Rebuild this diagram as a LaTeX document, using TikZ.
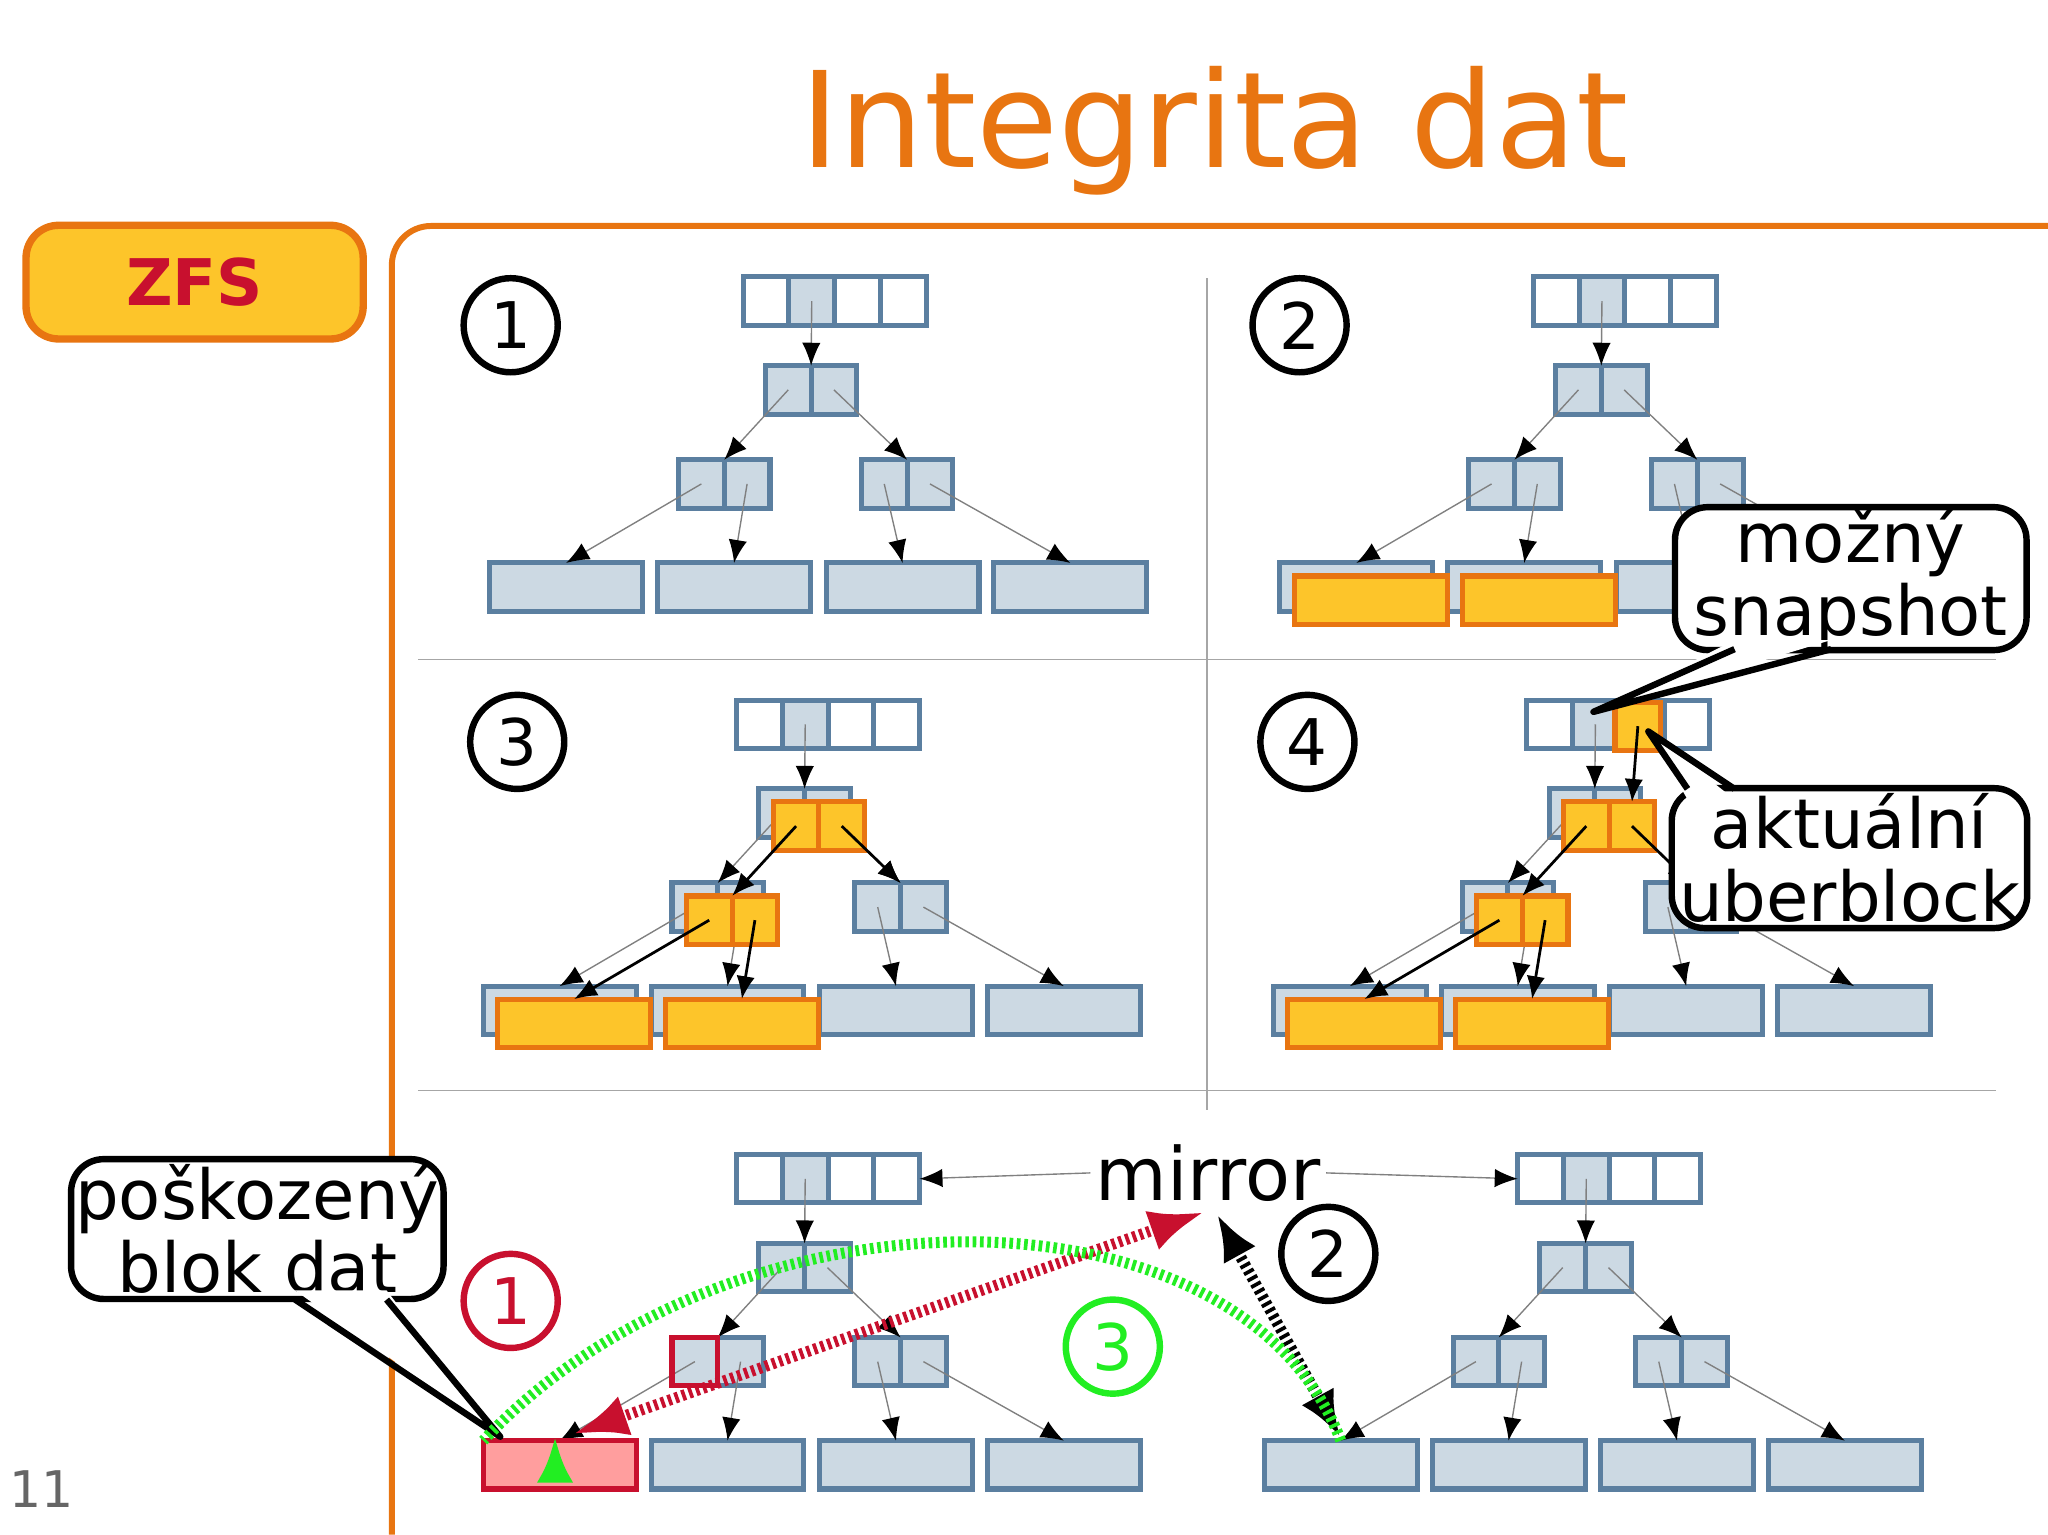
\documentclass[tikz,border=0pt]{standalone}
\usepackage{fontspec}
\setmainfont{DejaVu Sans}
\usetikzlibrary{arrows.meta}
\definecolor{bfill}{HTML}{CCD9E3}
\definecolor{bbord}{HTML}{5B7FA0}
\definecolor{ofill}{HTML}{FDC52A}
\definecolor{obord}{HTML}{E87511}
\definecolor{rfill}{HTML}{FF9E9E}
\definecolor{rbord}{HTML}{C8102E}
\definecolor{gdot}{HTML}{22EE22}
\tikzset{
  cell/.style={draw=bbord, line width=1.1pt, fill=bfill, minimum width=0.35cm,
    minimum height=0.37cm, inner sep=0, outer sep=0},
  leaf/.style={cell, minimum width=1.17cm},
  ocell/.style={cell, draw=obord, fill=ofill},
  oleaf/.style={leaf, draw=obord, fill=ofill},
  arr/.style={draw=gray, line width=0.3pt, -{Latex[length=5pt,width=4pt,black]}},
  oarr/.style={draw=black, line width=0.6pt, -{Latex[length=5pt,width=4pt]}},
  num/.style={circle, draw, line width=1.4pt, minimum size=0.72cm, inner sep=0, font=\fontsize{14}{14}\selectfont},
  callout/.style={draw, fill=white, line width=1.4pt, rounded corners=0.25cm, align=center,
    inner sep=0pt, font=\fontsize{15}{16}\selectfont},
  dotline/.style={line width=2.4pt, dash pattern=on 0.8pt off 0.8pt},
  pics/tree/.style={code={
    \node[cell, fill=white] (-r1) at (17.5,18.5) {};
    \node[cell] (-r2) at (52.5,18.5) {};
    \node[cell, fill=white] (-r3) at (87.5,18.5) {};
    \node[cell, fill=white] (-r4) at (122.5,18.5) {};
    \node[cell] (-m1) at (34.5,86.5) {};
    \node[cell] (-m2) at (69.5,86.5) {};
    \node[cell] (-a1) at (-32,158.5) {};
    \node[cell] (-a2) at (3,158.5) {};
    \node[cell] (-b1) at (108,158.5) {};
    \node[cell] (-b2) at (143,158.5) {};
    \node[leaf] (-l1) at (-135.5,237.5) {};
    \node[leaf] (-l2) at (-7,237.5) {};
    \node[leaf] (-l3) at (122,237.5) {};
    \node[leaf] (-l4) at (250.5,237.5) {};
    \draw[arr] (-r2.center) -- (-m1.north east);
    \draw[arr] (-m1.center) -- (-a1.north east);
    \draw[arr] (-m2.center) -- (-b1.north east);
    \draw[arr] (-a1.center) -- (-l1.north);
    \draw[arr] (-a2.center) -- (-l2.north);
    \draw[arr] (-b1.center) -- (-l3.north);
    \draw[arr] (-b2.center) -- (-l4.north);
  }}
}
\begin{document}
\begin{tikzpicture}[x=0.01cm, y=-0.01cm]
\useasboundingbox (0,0) rectangle (1568,1175);
% header
\node[text=obord, font=\fontsize{29}{29}\selectfont] (title) at (930,100) {Integrita dat};
\node[draw=obord, fill=ofill, line width=1.6pt, rounded corners=0.25cm, minimum width=2.58cm,
  minimum height=0.87cm, text=rbord, font=\bfseries\fontsize{14}{14}\selectfont] (zfs) at (149,216) {ZFS};
\draw[obord, line width=1.3pt, rounded corners=0.3cm] (300,1175) -- (300,173) -- (1568,173);
\node[text=gray!80!black, font=\fontsize{11}{11}\selectfont] (pg) at (32,1140) {11};
% grid
\draw[gray!70, line width=0.3pt] (924,213) -- (924,850);
\draw[gray!70, line width=0.3pt] (320,505) -- (1528,505);
\draw[gray!70, line width=0.3pt] (320,835) -- (1528,835);
% trees
\pic (p1) at (569,212) {tree};
\pic (p2) at (1174,212) {tree};
\pic (p3) at (564,536) {tree};
\pic (p4) at (1169,536) {tree};
\pic (p5) at (564,884) {tree};
\pic (p6) at (1162,884) {tree};
% numbers
\node[num] (n1) at (391,249) {1};
\node[num] (n2) at (995,249) {2};
\node[num] (n3) at (396,568) {3};
\node[num] (n4) at (1001,568) {4};
% panel 2 overlay
\node[oleaf] (q2l1) at (1049.5,459.5) {};
\node[oleaf] (q2l2) at (1178,459.5) {};
% panel 3 overlay
\node[ocell] (q3m1) at (609.5,632.5) {};
\node[ocell] (q3m2) at (644.5,632.5) {};
\node[ocell] (q3a1) at (543,704.5) {};
\node[ocell] (q3a2) at (578,704.5) {};
\node[oleaf] (q3l1) at (439.5,783.5) {};
\node[oleaf] (q3l2) at (568,783.5) {};
\draw[oarr] (q3m1.center) -- (q3a1.north east);
\draw[oarr] (q3m2.center) -- (p3-b1.north east);
\draw[oarr] (q3a1.center) -- (q3l1.north);
\draw[oarr] (q3a2.center) -- (q3l2.north);
% panel 4 overlay
\node[ocell] (q4r) at (1254,556) {};
\node[ocell] (q4m1) at (1214.5,632.5) {};
\node[ocell] (q4m2) at (1249.5,632.5) {};
\node[ocell] (q4a1) at (1148,704.5) {};
\node[ocell] (q4a2) at (1183,704.5) {};
\node[oleaf] (q4l1) at (1044.5,783.5) {};
\node[oleaf] (q4l2) at (1173,783.5) {};
\draw[oarr] (q4r.center) -- (q4m2.north);
\draw[oarr] (q4m1.center) -- (q4a1.north east);
\draw[oarr] (q4m2.center) -- (p4-b1.north east);
\draw[oarr] (q4a1.center) -- (q4l1.north);
\draw[oarr] (q4a2.center) -- (q4l2.north);
% callouts panel 2/4
\node[callout, minimum width=2.69cm, minimum height=1.07cm] (snap) at (1417,443) {možný\\snapshot};
\coordinate (snapt) at (1220,545);
\fill[white] (1328,490) -- (snapt) -- (1402,490) -- cycle;
\draw[line width=1.4pt, line join=round] (1328,497) -- (snapt) -- (1402,497);
\node[callout, minimum width=2.72cm, minimum height=1.07cm] (uber) at (1416,657) {aktuální\\uberblock};
\coordinate (ubert) at (1262,560);
\fill[white] (1292,612) -- (ubert) -- (1328,612) -- cycle;
\draw[line width=1.4pt, line join=round] (1292,604) -- (ubert) -- (1328,604);
% bottom panel
\node[leaf, draw=rbord, fill=rfill] (bad) at (428.5,1121.5) {};
\node[cell, draw=rbord, fill=none] (badp) at (532,1042.5) {};
\node[font=\fontsize{16}{16}\selectfont, fill=white, inner sep=1pt] (mir) at (925,898) {mirror};
\draw[arr] (mir.west) -- (p5-r4.east);
\draw[arr] (mir.east) -- (p6-r1.west);
\node[num, draw=rbord, text=rbord] (c1) at (391,996) {1};
\node[num] (c2) at (1017,960) {2};
\node[num, draw=gdot, text=gdot] (c3) at (852,1031) {3};
\node[callout, minimum width=2.85cm, minimum height=1.07cm] (corr) at (197,941) {poškozený\\blok dat};
\coordinate (corrt) at (383,1100);
\fill[white] (226,988) -- (corrt) -- (296,988) -- cycle;
\draw[line width=1.4pt, line join=round] (226,995) -- (corrt) -- (296,995);
\coordinate (rtop) at (922,928);
\coordinate (ktop) at (932,930);
\coordinate (kbot) at (1026,1100);
\draw[dotline, rbord, {Latex[length=12pt,width=9pt]}-{Latex[length=12pt,width=9pt]}] (bad.north) ++(10,-5) -- (rtop);
\draw[dotline, black, {Latex[length=10pt,width=8pt]}-{Latex[length=10pt,width=8pt]}] (ktop) -- (kbot);
\draw[dotline, gdot, -{Latex[length=10pt,width=8pt]}] (p6-l1.north) .. controls (950,900) and (560,900) .. (bad.north west) ++(55,-3);
\end{tikzpicture}
\end{document}
